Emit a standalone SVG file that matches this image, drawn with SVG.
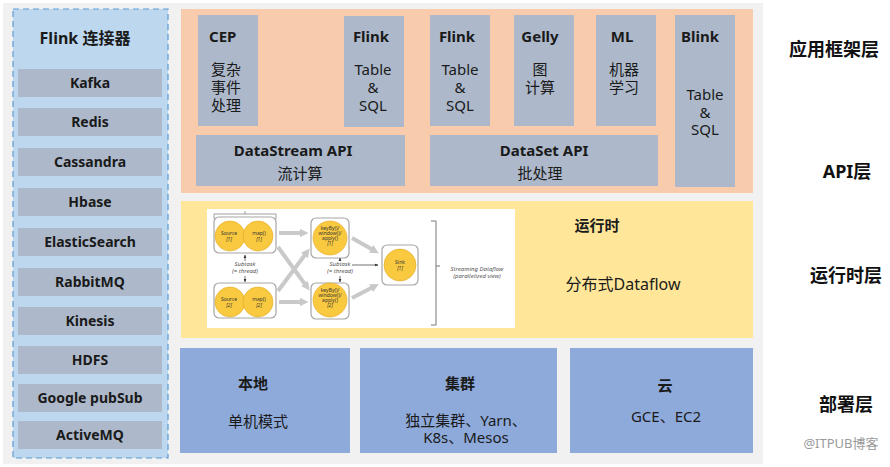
<svg xmlns="http://www.w3.org/2000/svg" width="890" height="467" viewBox="0 0 890 467">
<style>
text{font-family:"Noto Sans","Noto Sans CJK SC",sans-serif;fill:#1a1a1a}
.b{font-weight:bold}
.c{text-anchor:middle}
.item{fill:#adb9ca}
.it{font-size:14px;font-weight:bold;text-anchor:middle}
.t15{font-size:15px}
.lab{font-size:18px;font-weight:bold;text-anchor:middle;fill:#111}
.gbox{fill:#ffffff;stroke:#a6a6a6;stroke-width:1.2}
.circ{fill:#f9c940;stroke:#e0a820;stroke-width:0.6}
.tiny{font-size:5px;text-anchor:middle;fill:#333}
.tinyi{font-size:5px;text-anchor:middle;fill:#333;font-style:italic}
.sub{font-size:6px;text-anchor:middle;fill:#555;font-style:italic}
.garr{stroke:#c9c9c9;stroke-width:4;fill:none}
</style>
<defs>
<marker id="ga" viewBox="0 0 10 10" refX="5" refY="5" markerWidth="2.2" markerHeight="2.2" orient="auto"><path d="M0,0 L10,5 L0,10 z" fill="#c9c9c9"/></marker>
<marker id="ka" viewBox="0 0 10 10" refX="9" refY="5" markerWidth="5" markerHeight="5" orient="auto"><path d="M0,1 L10,5 L0,9 z" fill="#333"/></marker>
</defs>
<rect x="0" y="0" width="890" height="467" fill="#ffffff"/>
<rect x="3" y="3" width="760" height="461" fill="#f1f1f1"/>

<g id="connectors-panel">
<rect x="13" y="9" width="155" height="449" fill="#bdd7ee" stroke="#5b9bd5" stroke-width="1.2" stroke-dasharray="6,4"/>
<text x="85" y="44" class="b c" font-size="16">Flink 连接器</text>
</g>
<g id="kafka"><rect class="item" x="18" y="69" width="144" height="28"/><text class="it" x="90" y="88">Kafka</text></g>
<g id="redis"><rect class="item" x="18" y="108" width="144" height="28"/><text class="it" x="90" y="127">Redis</text></g>
<g id="cassandra"><rect class="item" x="18" y="148" width="144" height="28"/><text class="it" x="90" y="167">Cassandra</text></g>
<g id="hbase"><rect class="item" x="18" y="188" width="144" height="28"/><text class="it" x="90" y="207">Hbase</text></g>
<g id="elasticsearch"><rect class="item" x="18" y="228" width="144" height="28"/><text class="it" x="90" y="247">ElasticSearch</text></g>
<g id="rabbitmq"><rect class="item" x="18" y="268" width="144" height="28"/><text class="it" x="90" y="287">RabbitMQ</text></g>
<g id="kinesis"><rect class="item" x="18" y="307" width="144" height="28"/><text class="it" x="90" y="326">Kinesis</text></g>
<g id="hdfs"><rect class="item" x="18" y="346" width="144" height="28"/><text class="it" x="90" y="365">HDFS</text></g>
<g id="google-pubsub"><rect class="item" x="18" y="384" width="144" height="28"/><text class="it" x="90" y="403">Google pubSub</text></g>
<g id="activemq"><rect class="item" x="18" y="421" width="144" height="28"/><text class="it" x="90" y="440">ActiveMQ</text></g>

<g id="app-layer">
<rect x="181" y="9" width="572" height="184" fill="#f8cbad"/>
</g>
<g id="cep">
<rect class="item" x="198" y="15" width="60" height="111"/>
<text x="209" y="42" class="b t15">CEP</text>
<text x="211" y="75" class="t15">复杂</text>
<text x="211" y="93" class="t15">事件</text>
<text x="211" y="111" class="t15">处理</text>
</g>
<g id="flink-table-1">
<rect class="item" x="344" y="16" width="60" height="111"/>
<text x="371" y="42" class="b c t15">Flink</text>
<text x="373" y="75" class="c t15">Table</text>
<text x="373" y="93" class="c t15">&amp;</text>
<text x="373" y="111" class="c t15">SQL</text>
</g>
<g id="flink-table-2">
<rect class="item" x="430" y="15" width="60" height="111"/>
<text x="457" y="42" class="b c t15">Flink</text>
<text x="460" y="75" class="c t15">Table</text>
<text x="460" y="93" class="c t15">&amp;</text>
<text x="460" y="111" class="c t15">SQL</text>
</g>
<g id="gelly">
<rect class="item" x="514" y="15" width="60" height="111"/>
<text x="540" y="42" class="b c t15">Gelly</text>
<text x="540" y="75" class="c t15">图</text>
<text x="540" y="93" class="c t15">计算</text>
</g>
<g id="ml">
<rect class="item" x="596" y="15" width="60" height="111"/>
<text x="622" y="42" class="b c t15">ML</text>
<text x="624" y="75" class="c t15">机器</text>
<text x="624" y="93" class="c t15">学习</text>
</g>
<g id="blink">
<rect class="item" x="675" y="15" width="60" height="172"/>
<text x="700" y="42" class="b c t15">Blink</text>
<text x="705" y="100" class="c t15">Table</text>
<text x="705" y="118" class="c t15">&amp;</text>
<text x="705" y="135" class="c t15">SQL</text>
</g>
<g id="datastream-api">
<rect class="item" x="196" y="135" width="209" height="51"/>
<text x="293" y="156" class="b c t15">DataStream API</text>
<text x="300" y="179" class="c t15">流计算</text>
</g>
<g id="dataset-api">
<rect class="item" x="430" y="135" width="228" height="51"/>
<text x="544" y="156" class="b c t15">DataSet API</text>
<text x="540" y="179" class="c t15">批处理</text>
</g>

<g id="runtime">
<rect x="181" y="201" width="572" height="137" fill="#ffe699"/>
<text x="597" y="231" class="b c t15">运行时</text>
<text x="623" y="290" class="c" font-size="16">分布式Dataflow</text>
</g>

<g id="dataflow-figure">
<rect x="207" y="209" width="308" height="119" fill="#ffffff"/>
<rect class="gbox" x="214" y="217" width="62" height="36" rx="5"/>
<path d="M214,219 V214 H276 V219 M245,214 V211" fill="none" stroke="#888" stroke-width="0.8"/>
<circle class="circ" cx="230" cy="236" r="15"/>
<circle class="circ" cx="258" cy="236" r="15"/>
<text class="tiny" x="229" y="235">Source</text><text class="tinyi" x="229" y="241">[1]</text>
<text class="tiny" x="259" y="235">map()</text><text class="tinyi" x="259" y="241">[1]</text>
<rect class="gbox" x="214" y="283" width="62" height="35" rx="5"/>
<circle class="circ" cx="230" cy="302" r="15"/>
<circle class="circ" cx="258" cy="302" r="15"/>
<text class="tiny" x="229" y="301">Source</text><text class="tinyi" x="229" y="307">[2]</text>
<text class="tiny" x="259" y="301">map()</text><text class="tinyi" x="259" y="307">[2]</text>
<text class="sub" x="245" y="266">Subtask</text>
<text class="sub" x="245" y="273">(= thread)</text>
<rect class="gbox" x="311" y="218" width="38" height="40" rx="5"/>
<circle class="circ" cx="330" cy="238" r="17"/>
<text class="tiny" x="330" y="230">keyBy()/</text><text class="tiny" x="330" y="235">window()/</text><text class="tiny" x="330" y="240">apply()</text><text class="tinyi" x="330" y="245">[1]</text>
<rect class="gbox" x="311" y="283" width="38" height="36" rx="5"/>
<circle class="circ" cx="330" cy="300" r="17"/>
<text class="tiny" x="330" y="292">keyBy()/</text><text class="tiny" x="330" y="297">window()/</text><text class="tiny" x="330" y="302">apply()</text><text class="tinyi" x="330" y="307">[2]</text>
<text class="sub" x="340" y="266">Subtask</text>
<text class="sub" x="340" y="273">(= thread)</text>
<rect class="gbox" x="382" y="245" width="36" height="40" rx="5"/>
<circle class="circ" cx="400" cy="265" r="16"/>
<text class="tiny" x="400" y="264">Sink</text><text class="tinyi" x="400" y="270">[1]</text>
<path d="M431,221 H436 V325 H431 M436,266 H440" fill="none" stroke="#777" stroke-width="1"/>
<text class="sub" x="477" y="271">Streaming Dataflow</text>
<text class="sub" x="477" y="278">(parallelized view)</text>
</g>

<g id="deploy-local">
<rect x="180" y="348" width="170" height="105" fill="#8eaadb"/>
<text x="253" y="389" class="b c t15">本地</text>
<text x="258" y="427" class="c t15">单机模式</text>
</g>
<g id="deploy-cluster">
<rect x="360" y="348" width="197" height="105" fill="#8eaadb"/>
<text x="460" y="389" class="b c t15">集群</text>
<text x="466" y="426" class="c t15">独立集群、Yarn、</text>
<text x="466" y="443" class="c t15">K8s、Mesos</text>
</g>
<g id="deploy-cloud">
<rect x="570" y="348" width="183" height="105" fill="#8eaadb"/>
<text x="665" y="391" class="b c t15">云</text>
<text x="666" y="422" class="c t15">GCE、EC2</text>
</g>

<g id="layer-labels">
<text class="lab" x="834" y="56">应用框架层</text>
<text class="lab" x="847" y="178">API层</text>
<text class="lab" x="846" y="282">运行时层</text>
<text class="lab" x="846" y="411">部署层</text>
<text x="841" y="448" class="c" font-size="13" fill="#999" style="fill:#9a9a9a">@ITPUB博客</text>
</g>

<g id="connectors">
<line class="garr" x1="279" y1="233" x2="304" y2="233" marker-end="url(#ga)"/>
<line class="garr" x1="279" y1="302" x2="304" y2="302" marker-end="url(#ga)"/>
<line class="garr" x1="278" y1="247" x2="307" y2="287" marker-end="url(#ga)"/>
<line class="garr" x1="278" y1="291" x2="307" y2="252" marker-end="url(#ga)"/>
<line class="garr" x1="352" y1="238" x2="375" y2="251" marker-end="url(#ga)"/>
<line class="garr" x1="352" y1="298" x2="375" y2="286" marker-end="url(#ga)"/>
<line x1="245" y1="261" x2="245" y2="255" stroke="#333" stroke-width="0.7" marker-end="url(#ka)"/>
<line x1="245" y1="276" x2="245" y2="282" stroke="#333" stroke-width="0.7" marker-end="url(#ka)"/>
<line x1="340" y1="261" x2="340" y2="258" stroke="#333" stroke-width="0.7" marker-end="url(#ka)"/>
<line x1="340" y1="276" x2="340" y2="282" stroke="#333" stroke-width="0.7" marker-end="url(#ka)"/>
<line x1="352" y1="265" x2="378" y2="265" stroke="#333" stroke-width="0.7" marker-end="url(#ka)"/>
</g>
</svg>
